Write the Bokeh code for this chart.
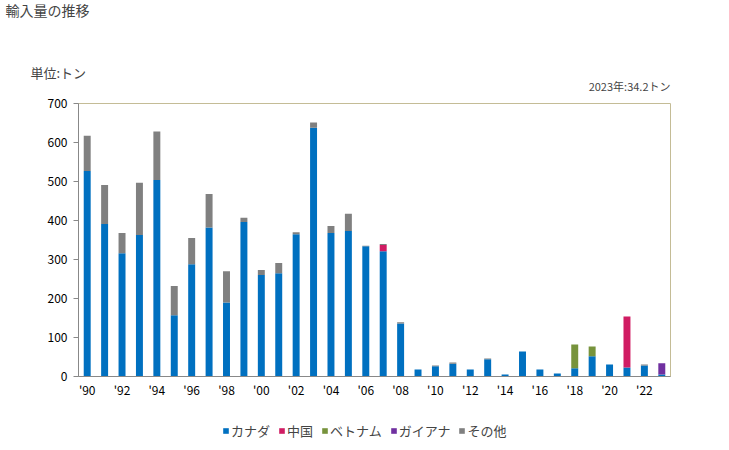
from bokeh.plotting import figure
from bokeh.layouts import column
from bokeh.models import Range1d, FixedTicker, Label, Legend, LegendItem, ColumnDataSource
from bokeh.embed import file_html
from bokeh.resources import INLINE

years = list(range(1990, 2024))
canada = [527, 391, 316, 363, 504, 157, 288, 382, 190, 396, 260, 265, 365, 638, 368, 373, 334,
          321, 136, 18, 26, 33, 18, 44, 5, 64, 18, 8, 21, 52, 31, 23, 28, 5]
china = [0]*17 + [16] + [0]*13 + [131, 0, 0]
vietnam = [0]*28 + [61, 25] + [0]*4
guyana = [0]*33 + [29.2]
other = [90, 100, 52, 134, 124, 75, 67, 86, 80, 11, 13, 26, 5, 13, 18, 44, 1, 3, 3, 0, 2, 3, 0, 2,
         0, 0, 0, 0, 0, 0, 0, 0, 3, 0]
series = ["カナダ", "中国", "ベトナム", "ガイアナ", "その他"]
colors = ["#0070c0", "#d01c63", "#77933c", "#7030a0", "#808080"]
tick_years = list(range(1990, 2023, 2))
tick_labels = ["'%02d" % (y % 100) for y in tick_years]
title_text = "輸入量の推移"
unit_text = "単位:トン"
note_text = "2023年:34.2トン"

FONT = "Noto Sans CJK JP"


def strip(height):
    f = figure(width=729, height=height, output_backend="svg", toolbar_location=None,
               x_axis_location=None, y_axis_location=None,
               x_range=Range1d(0, 1), y_range=Range1d(0, 1), frame_align=False,
               min_border_left=0, min_border_right=0, min_border_top=0, min_border_bottom=0,
               min_border=0)
    f.outline_line_color = None
    f.xgrid.grid_line_color = None
    f.ygrid.grid_line_color = None
    return f


# header strip with title, unit and note (screen coords from the strip's bottom-left)
hd = strip(94)
hd.add_layout(Label(x=5, y=85, x_units="screen", y_units="screen", text=title_text,
                    text_font=FONT, text_font_size="14px", text_baseline="middle"))
hd.add_layout(Label(x=30, y=22, x_units="screen", y_units="screen", text=unit_text,
                    text_font=FONT, text_font_size="13px", text_baseline="middle"))
hd.add_layout(Label(x=670, y=9, x_units="screen", y_units="screen", text=note_text,
                    text_font=FONT, text_font_size="11px", text_baseline="middle", text_align="right"))

src = ColumnDataSource(dict(year=years, s0=canada, s1=china, s2=vietnam, s3=guyana, s4=other))

p = figure(width=729, height=316, output_backend="svg", toolbar_location=None, title=None,
           x_range=Range1d(1989.5, 2023.5), y_range=Range1d(0, 700), frame_align=False,
           min_border_left=78, min_border_right=59, min_border_top=9, min_border_bottom=34)
p.background_fill_color = "white"
p.border_fill_color = "white"
p.outline_line_color = "#c4bc96"
p.xgrid.grid_line_color = None
p.ygrid.grid_line_color = None

r = p.vbar_stack(["s0", "s1", "s2", "s3", "s4"], x="year", width=0.4, fill_color=colors,
                 line_color=None, source=src)

p.xaxis.ticker = FixedTicker(ticks=tick_years)
p.xaxis.major_label_overrides = {y: l for y, l in zip(tick_years, tick_labels)}
p.yaxis.ticker = FixedTicker(ticks=list(range(0, 701, 100)))
for ax in (p.xaxis, p.yaxis):
    ax.axis_line_color = "#888888"
    ax.major_tick_line_color = "#888888"
    ax.minor_tick_line_color = None
    ax.major_label_text_font = FONT
    ax.major_label_text_font_size = "12px"
    ax.major_label_text_color = "black"
p.xaxis.major_tick_out = 0
p.xaxis.major_tick_in = 0
p.xaxis.major_label_standoff = 4
p.yaxis.major_tick_out = 5
p.yaxis.major_tick_in = 0
p.yaxis.major_label_standoff = 6

# legend strip below the chart (swatch renderers hold zero-height bars)
lg = strip(40)
swatches = [lg.vbar(x=[0.5], top=[0], width=0.1, fill_color=c, line_color=None) for c in colors]
legend = Legend(items=[LegendItem(label=s, renderers=[rr]) for s, rr in zip(series, swatches)],
                orientation="horizontal", location=(222, 10),
                label_text_font=FONT, label_text_font_size="13px",
                glyph_width=7, glyph_height=7, spacing=8, label_standoff=2,
                background_fill_alpha=0, border_line_color=None, padding=0, margin=0)
lg.add_layout(legend, "center")

layout = column(hd, p, lg, spacing=0)
open("out.html", "w").write(file_html(layout, INLINE))
